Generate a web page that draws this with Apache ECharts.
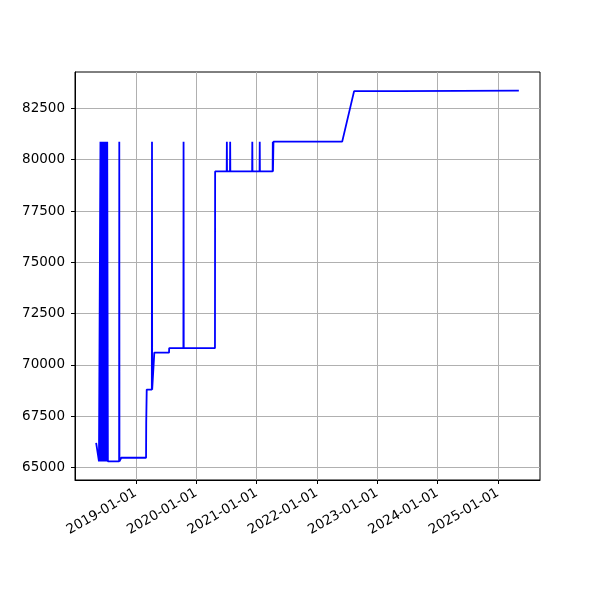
<!DOCTYPE html>
<html>
<head>
<meta charset="utf-8">
<script src="https://cdn.jsdelivr.net/npm/echarts@6/dist/echarts.min.js"></script>
<style>html,body{margin:0;padding:0;background:#fff}#c{width:600px;height:600px}</style>
</head>
<body>
<div id="c"></div>
<script>
const dates = [
  '2018-05-06','2018-05-23','2018-05-31','2018-06-01','2018-06-02','2018-06-04','2018-06-05','2018-06-07',
  '2018-06-08','2018-06-10','2018-06-12','2018-06-14','2018-06-16','2018-06-18','2018-06-20','2018-06-22',
  '2018-06-24','2018-06-26','2018-06-28','2018-06-30','2018-07-02','2018-07-04','2018-07-06','2018-07-08',
  '2018-07-10','2018-07-12','2018-07-15','2018-07-16',
  '2018-09-22','2018-09-23','2018-09-24','2018-10-04','2018-10-05',
  '2019-03-04','2019-03-05','2019-03-07','2019-03-08','2019-04-08','2019-04-09','2019-04-10',
  '2019-04-22','2019-04-23','2019-07-21','2019-07-22','2019-10-16','2019-10-17','2019-10-18',
  '2020-04-24','2020-04-25','2020-07-04','2020-07-05','2020-07-06','2020-07-24','2020-07-25','2020-07-26',
  '2020-12-05','2020-12-06','2020-12-07','2021-01-19','2021-01-20','2021-01-21',
  '2021-04-08','2021-04-09','2021-04-10','2021-04-12','2021-04-13',
  '2022-06-03','2022-08-14','2023-05-16','2023-05-17','2025-05-07'
];
const values = [
  66200,65300,65300,80880,65300,80880,65300,80880,
  65300,80880,65300,80880,65300,80880,65300,80880,
  65300,80880,65300,80880,65300,80880,65300,80880,
  65300,80880,80880,65300,
  65300,80880,65300,65300,65480,
  65480,67200,67200,68800,68800,80880,68800,
  68800,70600,70600,70820,70820,80880,70820,
  70820,79430,79430,80880,79430,79430,80880,79430,
  79430,80880,79430,79430,80880,79430,
  79430,80880,79430,79430,80880,
  80880,83340,83340,83370,83370
];
const yTicks = [65000, 67500, 70000, 72500, 75000, 77500, 80000, 82500];
const xTickLabels = ['2019-01-01','2020-01-01','2021-01-01','2022-01-01','2023-01-01','2024-01-01','2025-01-01'];

const t = s => Date.parse(s + 'T00:00:00Z');
const pad = n => (n < 10 ? '0' : '') + n;
const fmt = v => { const d = new Date(v); return d.getUTCFullYear() + '-' + pad(d.getUTCMonth() + 1) + '-' + pad(d.getUTCDate()); };
const xTickValues = xTickLabels.map(t);

const chart = echarts.init(document.getElementById('c'), null, { renderer: 'canvas' });
const font = 'DejaVu Sans';
chart.setOption({
  animation: false,
  grid: { left: 75, right: 60, top: 72, bottom: 120, show: true, borderColor: '#000', borderWidth: 1, backgroundColor: 'transparent' },
  xAxis: {
    type: 'value',
    min: t('2017-12-29'),
    max: t('2025-09-12'),
    axisLine: { show: true, onZero: false, lineStyle: { color: '#000', width: 1 } },
    axisTick: { show: true, length: 4, lineStyle: { color: '#000', width: 1 }, customValues: xTickValues },
    axisLabel: { customValues: xTickValues, formatter: v => fmt(v), rotate: 30, margin: 12, color: '#000', fontFamily: font, fontSize: 13.5 },
    splitLine: { show: true, lineStyle: { color: '#b0b0b0', width: 1 } }
  },
  yAxis: {
    type: 'value',
    min: 64397,
    max: 84273,
    axisLine: { show: true, onZero: false, lineStyle: { color: '#000', width: 1 } },
    axisTick: { show: true, length: 4, lineStyle: { color: '#000', width: 1 }, customValues: yTicks },
    axisLabel: { customValues: yTicks, formatter: v => String(v), margin: 10, color: '#000', fontFamily: font, fontSize: 13.5 },
    splitLine: { show: true, lineStyle: { color: '#b0b0b0', width: 1 } }
  },
  series: [{
    type: 'line',
    data: dates.map((d, i) => [t(d), values[i]]),
    showSymbol: false,
    symbol: 'none',
    lineStyle: { color: '#0000ff', width: 1.8 },
    emphasis: { disabled: true }
  }]
});
</script>
</body>
</html>
